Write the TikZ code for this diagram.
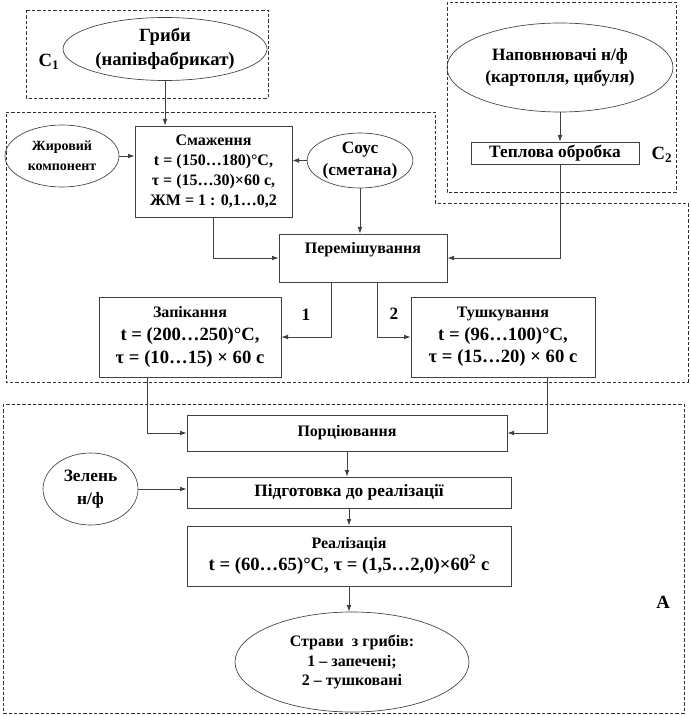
\documentclass[tikz,border=0pt]{standalone}
\usepackage{fontspec}
\setmainfont{Liberation Serif}
\usetikzlibrary{shapes,arrows.meta}

\newcommand{\bsz}[2]{\fontsize{#1}{#2}\selectfont\bfseries}

\begin{document}
\begin{tikzpicture}[x=0.75pt, y=-0.75pt,
    >={Latex[length=5pt,width=3.5pt]},
    proc/.style={rectangle, draw=black!75, line width=0.5pt, align=center, inner sep=1pt},
    inp/.style={ellipse, draw=black!75, line width=0.5pt, align=center, inner sep=0pt},
    area/.style={draw=black!80, line width=0.5pt, dash pattern=on 2.5pt off 1.5pt},
    link/.style={draw=black!75, line width=0.6pt}]
    \useasboundingbox (0,0) rectangle (690,716);

    \draw [area] (26,10) rectangle (268,98);
    \node [inp, minimum width=153pt, minimum height=47.25pt, font=\bsz{14}{18}] (gryby) at (165,49) {Гриби\\(напівфабрикат)};
    \node [font=\bsz{14}{16}] (c1) at (49,62) {C\textsubscript{1}};

    \draw [area] (447,2) rectangle (676,192);
    \node [inp, minimum width=169.5pt, minimum height=66.75pt, font=\bsz{13}{17}] (napovn) at (560,67.5) {Наповнювачі н/ф\\(картопля, цибуля)};
    \node [proc, minimum width=126pt, minimum height=16.5pt, font=\bsz{13}{15}] (teplova) at (555,153) {Теплова обробка};
    \node [font=\bsz{14}{16}] (c2) at (662,155) {C\textsubscript{2}};

    \draw [area] (6,112) -- (435,112) -- (435,203) -- (688,203) -- (688,382) -- (6,382) -- cycle;
    \node [inp, minimum width=85.5pt, minimum height=46.5pt, font=\bsz{10.5}{15}] (zhyr) at (62,156) {Жировий\\компонент};
    \node [proc, minimum width=117.75pt, minimum height=68.25pt, font=\bsz{12}{15}] (smazh) at (213.5,171.5) {Смаження\\t = (150…180)°C,\\τ = (15…30)×60 с,\\ЖМ = 1 : 0,1…0,2};
    \node [inp, minimum width=78.75pt, minimum height=41.25pt, font=\bsz{13}{16}] (sous) at (360,160.5) {Соус\\(сметана)};
    \node [proc, minimum width=126pt, minimum height=36pt, font=\bsz{12}{15}] (perem) at (363,258) {Перемішування\\\mbox{}};
    \node [proc, minimum width=136.5pt, minimum height=60pt, font=\bsz{14}{17}] (zapik) at (190,337) {{\fontsize{12}{17}\selectfont Запікання}\\t = (200…250)°C,\\τ = (10…15) × 60 с};
    \node [proc, minimum width=138pt, minimum height=60pt, font=\bsz{14}{17}] (tushk) at (503,337) {{\fontsize{12}{17}\selectfont Тушкування}\\t = (96…100)°C,\\τ = (15…20) × 60 с};
    \node [font=\bsz{13}{15}] (n1) at (306,315) {1};
    \node [font=\bsz{13}{15}] (n2) at (394,314) {2};

    \draw [area] (3,404) rectangle (684,713);
    \node [proc, minimum width=240pt, minimum height=27pt, font=\bsz{12}{15}] (portsi) at (347,433) {Порціювання};
    \node [proc, minimum width=243pt, minimum height=23.25pt, font=\bsz{13}{15}] (pidgot) at (349,492.5) {Підготовка до реалізації};
    \node [proc, minimum width=243pt, minimum height=45pt, font=\bsz{14}{16.5}] (realiz) at (349,556) {{\fontsize{12}{16.5}\selectfont Реалізація}\\t = (60…65)°C, τ = (1,5…2,0)×60\textsuperscript{2} с};
    \node [inp, minimum width=175.5pt, minimum height=75pt, font=\bsz{12}{14.6}] (stravy) at (352,662) {Страви\ \ з грибів:\\1 – запечені;\\2 – тушковані};
    \node [inp, minimum width=71.25pt, minimum height=54pt, font=\bsz{13}{17}] (zelen) at (90.5,489) {Зелень\\н/ф};
    \node [font=\bsz{14}{16}] (a) at (663,602) {А};

    \draw [link, ->] (gryby.south) -- (gryby.south |- smazh.north);
    \draw [link, ->] (zhyr.east) -- (zhyr.east -| smazh.west);
    \draw [link, ->] (sous.west) -- (sous.west -| smazh.east);
    \draw [link, ->] (sous.south) -- (sous.south |- perem.north);
    \draw [link, ->] (smazh.south) |- (perem.west);
    \draw [link, ->] (napovn.south) -- (napovn.south |- teplova.north);
    \draw [link, ->] (napovn.south |- teplova.south) |- (perem.east);
    \draw [link, ->] ([xshift=-24pt]perem.south) |- (zapik.east);
    \draw [link, ->] ([xshift=10.5pt]perem.south) |- (tushk.west);
    \draw [link, ->] ([xshift=-32.25pt]zapik.south) |- (portsi.west);
    \draw [link, ->] ([xshift=33pt]tushk.south) |- (portsi.east);
    \draw [link, ->] (portsi.south) -- (portsi.south |- pidgot.north);
    \draw [link, ->] (zelen.east) -- (zelen.east -| pidgot.west);
    \draw [link, ->] (pidgot.south) -- (pidgot.south |- realiz.north);
    \draw [link, ->] (realiz.south) -- (realiz.south |- stravy.north);
\end{tikzpicture}
\end{document}
